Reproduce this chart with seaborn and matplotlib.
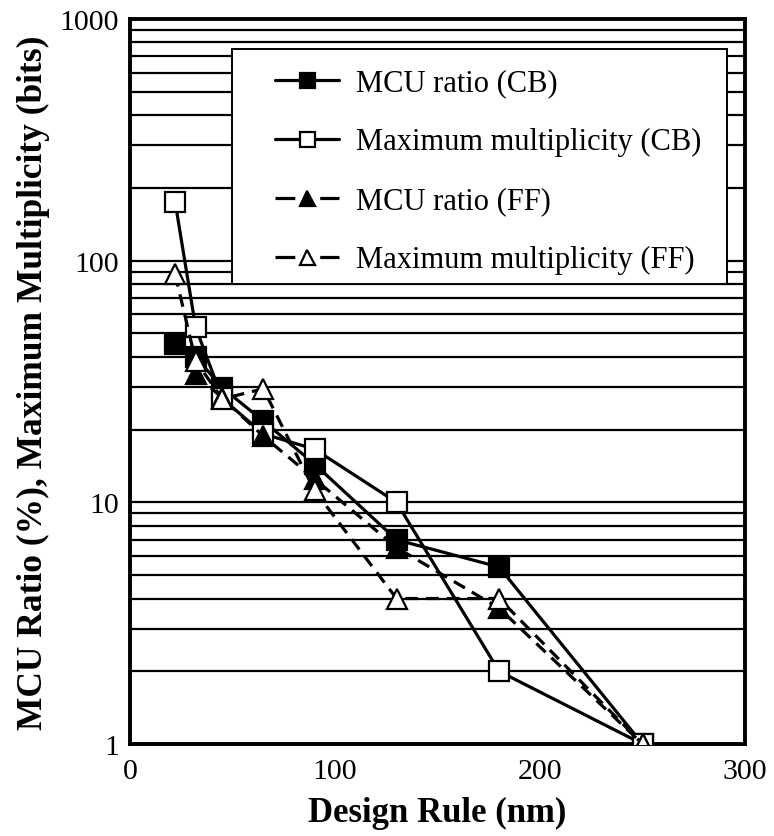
import matplotlib
matplotlib.use("Agg")
import matplotlib.pyplot as plt
import matplotlib.ticker as mticker
from matplotlib.patches import Rectangle
import seaborn as sns
import pandas as pd

# Design rule (nm)
design_rule = [22, 32, 45, 65, 90, 130, 180, 250]

# Cell-based (CB) results
mcu_ratio_cb = [45, 40, 29.8, 21.7, 14.4, 7.0, 5.4, 1.0]
max_mult_cb = [175, 53, 26.9, 19.2, 16.6, 10, 2.0, 1.0]
# Flip-flop (FF) results (no MCU ratio at 22 nm)
mcu_ratio_ff = [None, 34, 27, 18.8, 12.5, 6.5, 3.65, 1.0]
max_mult_ff = [88, 38.5, 26.8, 29.5, 11.2, 4.0, 4.0, 1.0]

series_labels = [
    "MCU ratio (CB)",
    "Maximum multiplicity (CB)",
    "MCU ratio (FF)",
    "Maximum multiplicity (FF)",
]

sns.set_theme(style="white")
plt.rcParams["font.family"] = ["Liberation Serif", "DejaVu Serif"]
plt.rcParams.update({"text.color": "black", "axes.labelcolor": "black",
                     "xtick.color": "black", "ytick.color": "black"})

fig = plt.figure(figsize=(7.74, 8.37), dpi=100)
ax = fig.add_axes([0.168, 0.1099, 0.7946, 0.8662])

styles = [
    dict(marker="s", mfc="black", dashed=False),
    dict(marker="s", mfc="white", dashed=False),
    dict(marker="^", mfc="black", dashed=True),
    dict(marker="^", mfc="white", dashed=True),
]
values = [mcu_ratio_cb, max_mult_cb, mcu_ratio_ff, max_mult_ff]
zorders = [3, 4, 5, 6]

for lab, vals, st, z in zip(series_labels, values, styles, zorders):
    df = pd.DataFrame({"x": design_rule, "y": vals}).dropna()
    line_kw = dict(dashes=(4, 2.5)) if st["dashed"] else dict(linestyle="-")
    sns.lineplot(
        data=df, x="x", y="y", ax=ax, color="black", lw=2.3,
        marker=st["marker"], markersize=15,
        markerfacecolor=st["mfc"], markeredgecolor="black",
        markeredgewidth=1.6, label=lab, zorder=z, **line_kw,
    )

ax.set_yscale("log")
ax.set_xlim(0, 300)
ax.set_ylim(1, 1000)
ax.set_xticks([0, 100, 200, 300])
ax.yaxis.set_major_locator(mticker.FixedLocator([1, 10, 100, 1000]))
ax.yaxis.set_major_formatter(mticker.FuncFormatter(lambda v, p: f"{v:g}"))
ax.yaxis.set_minor_locator(mticker.LogLocator(base=10, subs=range(2, 10)))
ax.yaxis.set_minor_formatter(mticker.NullFormatter())

ax.grid(True, which="both", axis="y", color="black", lw=1.6)
ax.grid(False, axis="x")
ax.set_axisbelow(True)
for s in ax.spines.values():
    s.set_color("black")
    s.set_linewidth(2.8)
ax.tick_params(axis="both", which="both", length=0, labelsize=21.5,
               labelcolor="black")
ax.tick_params(axis="x", pad=10)
ax.tick_params(axis="y", pad=8)

ax.set_xlabel("Design Rule (nm)", fontsize=25, fontweight="bold", labelpad=9)
ax.set_ylabel("MCU Ratio (%), Maximum Multiplicity (bits)", fontsize=25.5,
              fontweight="bold", labelpad=7)

# Legend box drawn as a plain rectangle, entries placed inside it
box = Rectangle((0.1659, 0.6345), 0.9707 - 0.1659, 0.9586 - 0.6345,
                transform=ax.transAxes, facecolor="white", edgecolor="black",
                lw=1.4, zorder=9)
ax.add_patch(box)
leg = ax.legend(
    loc="upper left", bbox_to_anchor=(0.2358, 0.932), fontsize=22,
    frameon=False, handlelength=2.1, borderpad=0, labelspacing=0.98,
    handletextpad=0.55, borderaxespad=0, markerscale=0.72,
)
leg.set_zorder(10)
# Dashed handles: one short dash on each side of the marker
for handle in leg.get_lines()[2:]:
    handle.set_dashes([6.2, 7.8])

fig.savefig("out.png", dpi=100)
